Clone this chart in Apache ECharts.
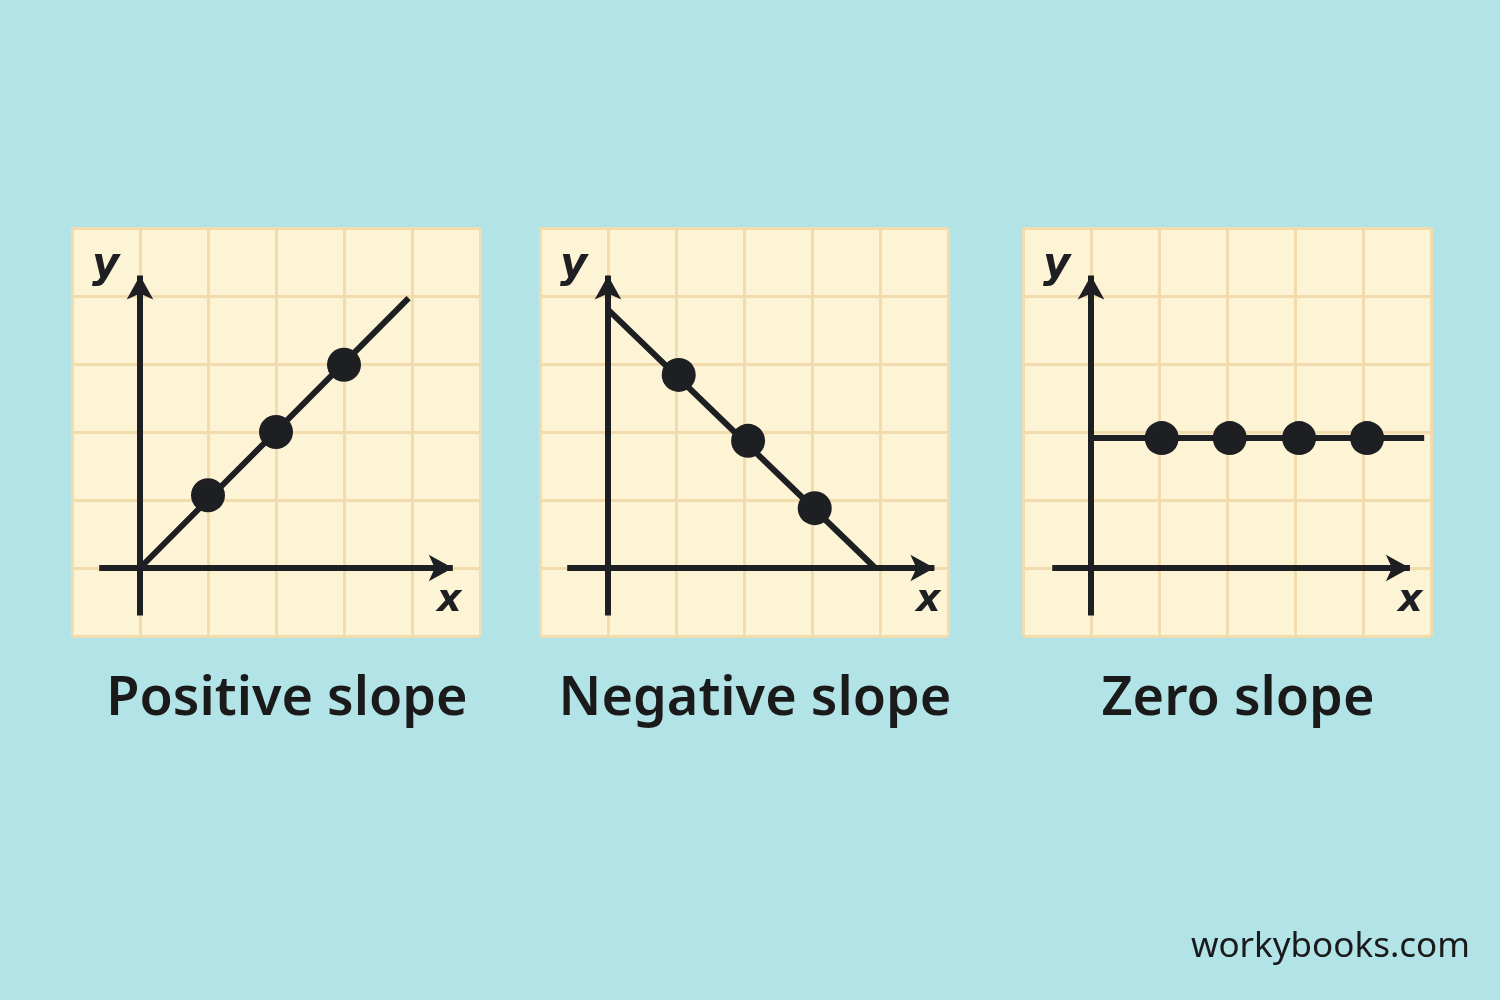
<!DOCTYPE html>
<html><head><meta charset="utf-8">
<script src="https://cdn.jsdelivr.net/npm/echarts@6/dist/echarts.min.js"></script>
<style>html,body{margin:0;padding:0;background:#b1e3e7}#c{width:1500px;height:1000px}</style>
</head><body><div id="c"></div>
<script>
const panelTitles = ['Positive slope', 'Negative slope', 'Zero slope'];
const positivePoints = [[1.0, 1.07], [2.0, 2.0], [3.0, 2.99]];
const positiveLine = [[0, 0], [3.95, 3.97]];
const negativePoints = [[1.04, 2.84], [2.06, 1.87], [3.04, 0.88]];
const negativeLine = [[0, 3.8], [3.93, 0]];
const zeroPoints = [[1.04, 1.91], [2.04, 1.91], [3.06, 1.91], [4.06, 1.91]];
const zeroLine = [[0, 1.91], [4.9, 1.91]];
const xAxisSpan = [[-0.6, 4.6], [-0.6, 4.8], [-0.57, 4.69]];
const yAxisSpan = [-0.7, 4.3];

const ink = '#1e1f22';
const lefts = [72, 540, 1023];
const lines = [positiveLine, negativeLine, zeroLine];
const pts = [positivePoints, negativePoints, zeroPoints];

const grids = [], xs = [], ys = [], series = [], titles = [], graphics = [];
lefts.forEach((l, i) => {
  grids.push({left: l, top: 228, width: 408, height: 408, show: true, backgroundColor: '#fdf4d5', borderWidth: 0});
  const ax = {type: 'value', min: -1, max: 5, interval: 1, gridIndex: i,
    axisLine: {show: false}, axisTick: {show: false}, axisLabel: {show: false},
    splitLine: {show: true, lineStyle: {color: '#f2dcae', width: 3}}};
  xs.push(Object.assign({}, ax));
  ys.push(Object.assign({}, ax));
  series.push({type: 'line', xAxisIndex: i, yAxisIndex: i, data: [], silent: true,
    markLine: {silent: true, symbol: ['none', 'arrow'], symbolSize: [20, 24], label: {show: false},
      lineStyle: {color: ink, width: 6, type: 'solid'},
      data: [
        [{coord: [xAxisSpan[i][0], 0]}, {coord: [xAxisSpan[i][1], 0]}],
        [{coord: [0, yAxisSpan[0]]}, {coord: [0, yAxisSpan[1]]}]
      ]}});
  series.push({type: 'line', xAxisIndex: i, yAxisIndex: i, data: lines[i], symbol: 'none',
    lineStyle: {color: ink, width: 6}, z: 3});
  series.push({type: 'scatter', xAxisIndex: i, yAxisIndex: i, data: pts[i], symbolSize: 34,
    itemStyle: {color: ink, opacity: 1}, z: 4});
  titles.push({text: panelTitles[i], left: l + 210, top: 668, textAlign: 'center',
    textStyle: {fontFamily: 'Noto Sans', fontSize: 54, fontWeight: 600, color: '#1a1a1a'}});
});
const axisX0 = [140, 608, 1091];
axisX0.forEach((x, i) => {
  graphics.push({type: 'text', left: x - 48, top: 245, style: {text: 'y', font: 'italic bold 42px "DejaVu Sans"', fill: ink}});
  graphics.push({type: 'text', left: [437, 916, 1398][i], top: 582, style: {text: 'x', font: 'italic bold 38px "DejaVu Sans"', fill: ink}});
});
graphics.push({type: 'text', right: 30, top: 930, style: {text: 'workybooks.com', font: '35px "Noto Sans"', fill: '#1a1a1a'}});

const chart = echarts.init(document.getElementById('c'));
chart.setOption({backgroundColor: '#b1e3e7', animation: false, title: titles, grid: grids,
  xAxis: xs, yAxis: ys, series: series, graphic: graphics});
</script></body></html>
